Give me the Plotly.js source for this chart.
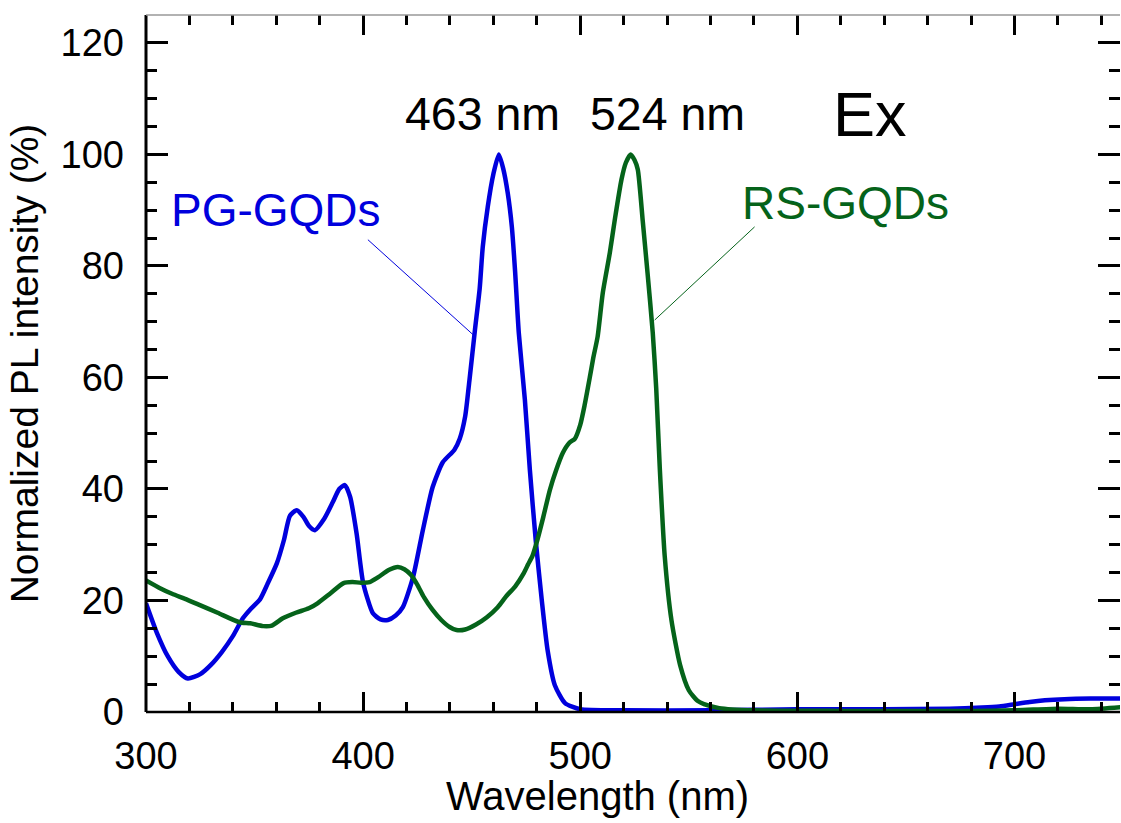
<!DOCTYPE html>
<html>
<head>
<meta charset="utf-8">
<script src="https://cdn.plot.ly/plotly-3.0.1.min.js"></script>
<style>html,body{margin:0;padding:0;background:#fff;}#chart{width:1121px;height:823px;}</style>
</head>
<body>
<div id="chart"></div>
<script>
// PG-GQDs spectrum (wavelength nm, normalized PL %)
const pgX = [300, 305, 310, 315, 319.3, 325, 330, 335, 340, 344.6, 348, 352.5, 356, 360.3, 363.5, 366.3, 369.4, 372.5, 375, 377.8, 382, 386, 389, 391.6, 394, 397, 400, 404.5, 408, 411.4, 415, 418.3, 423, 427.5, 432, 436.7, 442, 444.5, 447, 449, 451.5, 453.7, 455.1, 457.4, 460, 462.5, 464.5, 466.6, 468.5, 470, 471.7, 474.5, 476.8, 479.5, 482.3, 485, 488.3, 493, 500, 520, 560, 600, 640, 670, 685, 693, 700, 707, 714, 723, 735, 750];
const pgY = [19.5, 14.2, 10.0, 7.2, 6.0, 6.8, 8.5, 10.8, 13.6, 16.8, 18.4, 20.2, 23.0, 26.7, 30.8, 35.2, 36.2, 35.0, 33.4, 32.6, 34.6, 37.6, 40.0, 40.7, 38.6, 32.0, 23.2, 17.7, 16.6, 16.5, 17.3, 18.8, 24.2, 32.6, 40.3, 44.8, 47.0, 49.0, 53.0, 59.6, 68.5, 76.0, 83.4, 90.6, 96.5, 100, 97.5, 93.1, 87.0, 79.0, 68.0, 56.0, 43.4, 30.8, 20.0, 11.0, 4.8, 1.6, 0.5, 0.3, 0.3, 0.5, 0.5, 0.6, 0.8, 1.0, 1.4, 1.8, 2.1, 2.3, 2.4, 2.4];

// RS-GQDs spectrum
const rsX = [300, 306, 312, 318, 324, 333, 343, 348, 354, 358, 363, 369, 375, 379, 385, 391, 395, 399, 403, 407, 412, 416, 419, 422, 425, 428, 432, 436, 440, 443, 447, 452, 457, 462, 466, 470, 474, 476, 478, 480, 483, 486, 489, 492, 495, 497.5, 500, 502, 504.4, 506, 508, 510.4, 513.6, 516, 519, 521, 523.2, 525, 526.5, 528.8, 531, 533.4, 535, 536.6, 538.9, 542, 546, 550, 554, 557, 564, 580, 620, 680, 700, 720, 735, 750];
const rsY = [23.6, 22.3, 21.2, 20.3, 19.3, 17.8, 16.1, 15.9, 15.4, 15.5, 16.8, 17.8, 18.6, 19.5, 21.3, 23.1, 23.3, 23.2, 23.3, 24.2, 25.5, 26.0, 25.6, 24.6, 22.8, 20.6, 18.3, 16.5, 15.2, 14.7, 14.8, 15.7, 17.0, 18.8, 20.8, 22.5, 24.9, 26.5, 28.0, 30.5, 35.0, 39.8, 43.5, 46.5, 48.3, 49.0, 51.5, 55.0, 60.0, 63.5, 67.3, 75.2, 82.3, 88.5, 95.5, 98.5, 100, 99.0, 97.3, 88.0, 78.7, 68.0, 58.0, 44.0, 28.0, 16.5, 8.4, 3.9, 2.0, 1.4, 0.7, 0.3, 0.2, 0.2, 0.3, 0.6, 0.5, 0.9];

const seriesNames = ['PG-GQDs', 'RS-GQDs'];
const peakLabels = ['463 nm', '524 nm'];
const xTickVals = [300, 400, 500, 600, 700];
const yTickVals = [0, 20, 40, 60, 80, 100, 120];

const blue = '#0000dd';
const green = '#05631a';
const font = 'Liberation Sans, Arial, sans-serif';

const traces = [
  {x: pgX, y: pgY, name: seriesNames[0], mode: 'lines', line: {color: blue, width: 4.5, shape: 'spline', smoothing: 0.6}},
  {x: rsX, y: rsY, name: seriesNames[1], mode: 'lines', line: {color: green, width: 4.5, shape: 'spline', smoothing: 0.6}}
];

const layout = {
  width: 1121, height: 823,
  margin: {l: 146, r: 1, t: 15, b: 111},
  paper_bgcolor: '#fff', plot_bgcolor: '#fff',
  showlegend: false,
  font: {family: font, size: 38, color: '#000'},
  xaxis: {
    range: [300, 748.6], tickvals: xTickVals, ticks: 'inside', ticklen: 20, tickwidth: 3, tickcolor: '#000',
    minor: {dtick: 20, tick0: 300, ticks: 'inside', ticklen: 10, tickwidth: 3, tickcolor: '#000'},
    showgrid: false, zeroline: false, showline: false, mirror: 'ticks',
    ticklabelstandoff: 18, tickfont: {size: 38, family: font}
  },
  yaxis: {
    range: [0, 125], tickvals: yTickVals, ticks: 'inside', ticklen: 22, tickwidth: 3, tickcolor: '#000',
    minor: {dtick: 5, tick0: 0, ticks: 'inside', ticklen: 11, tickwidth: 3, tickcolor: '#000'},
    showgrid: false, zeroline: false, showline: false, mirror: 'ticks',
    ticklabelstandoff: 21, tickfont: {size: 38, family: font},
    title: {text: 'Normalized PL intensity (%)', font: {size: 39, family: font}, standoff: 9}
  },
  shapes: [
    {type: 'line', xref: 'paper', yref: 'paper', x0: 0, x1: 1, y0: 0, y1: 0, line: {color: '#000', width: 2.5}},
    {type: 'line', xref: 'paper', yref: 'paper', x0: 0, x1: 0, y0: 0, y1: 1, line: {color: '#000', width: 3}},
    {type: 'line', xref: 'paper', yref: 'paper', x0: 0, x1: 1, y0: 1, y1: 1, line: {color: '#999', width: 1.5}},
    {type: 'line', xref: 'x', yref: 'y', x0: 402.2, y0: 84.7, x1: 451.4, y1: 67.4, line: {color: blue, width: 1}},
    {type: 'line', xref: 'x', yref: 'y', x0: 580.3, y0: 87.0, x1: 534.3, y1: 70.3, line: {color: green, width: 1}}
  ],
  annotations: [
    {x: 455, y: 107.3, xref: 'x', yref: 'y', text: peakLabels[0], showarrow: false, font: {size: 46.5, color: '#000', family: font}},
    {x: 540.2, y: 107.3, xref: 'x', yref: 'y', text: peakLabels[1], showarrow: false, font: {size: 46.5, color: '#000', family: font}},
    {x: 633.5, y: 107.3, xref: 'x', yref: 'y', text: 'Ex', showarrow: false, font: {size: 63, color: '#000', family: font}},
    {x: 360.1, y: 90.1, xref: 'x', yref: 'y', text: seriesNames[0], showarrow: false, font: {size: 46, color: blue, family: font}},
    {x: 622.2, y: 91.2, xref: 'x', yref: 'y', text: seriesNames[1], showarrow: false, font: {size: 46, color: green, family: font}},
    {x: 0.464, y: -0.12, xref: 'paper', yref: 'paper', text: 'Wavelength (nm)', showarrow: false, yanchor: 'middle', font: {size: 40, color: '#000', family: font}}
  ]
};

Plotly.newPlot('chart', traces, layout, {displayModeBar: false, staticPlot: true});
</script>
</body>
</html>
